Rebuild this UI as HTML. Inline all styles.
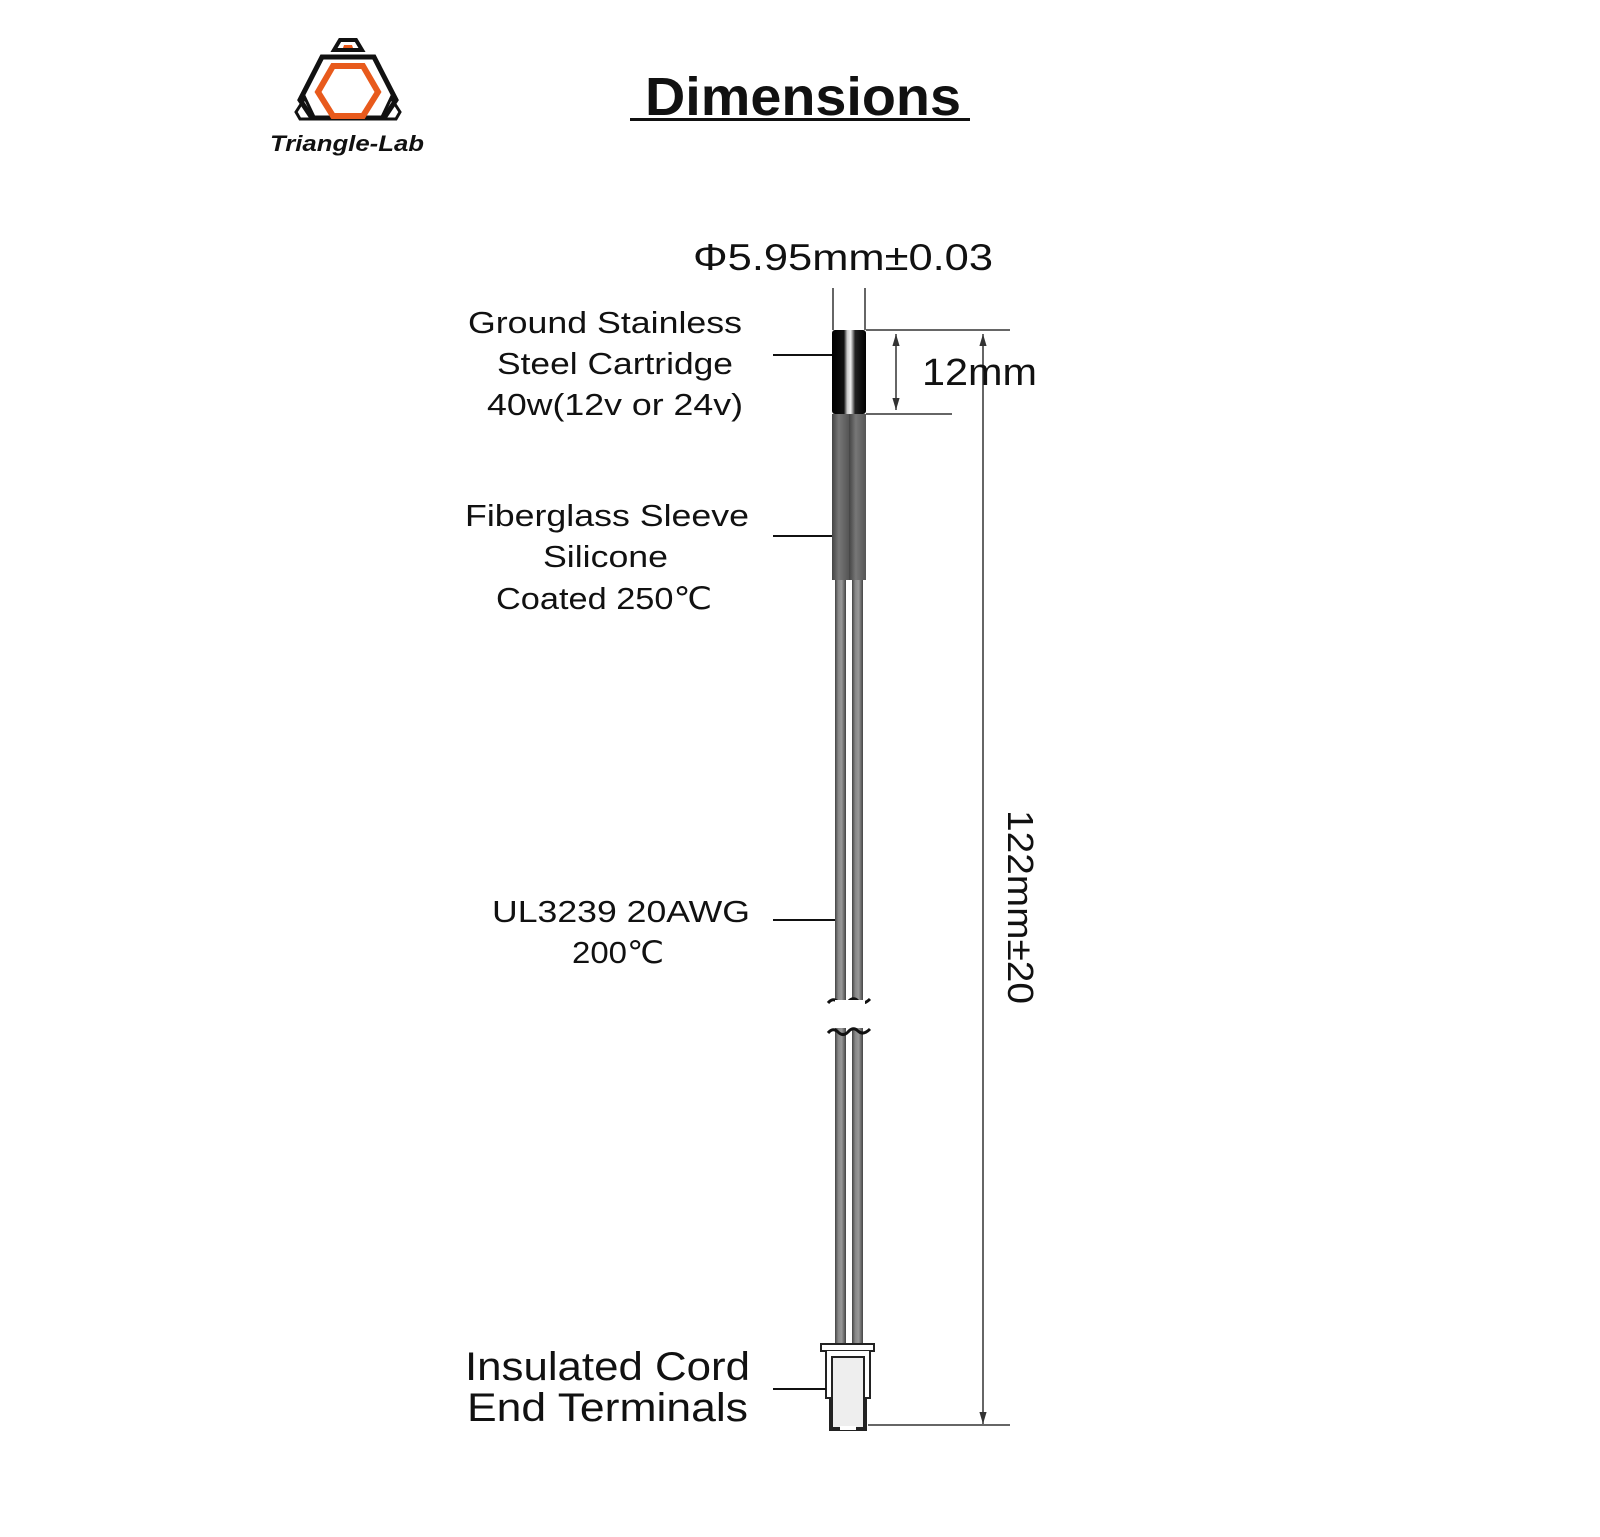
<!DOCTYPE html>
<html><head><meta charset="utf-8"><style>
html,body{margin:0;padding:0;background:#fff;}
svg{display:block}
text{font-family:"Liberation Sans",Arial,sans-serif;fill:#111}
</style></head><body>
<svg width="1600" height="1537" viewBox="0 0 1600 1537" xmlns="http://www.w3.org/2000/svg">
<defs>
<linearGradient id="wire" x1="0" x2="1">
<stop offset="0" stop-color="#444"/><stop offset="0.3" stop-color="#888"/><stop offset="0.6" stop-color="#999"/><stop offset="1" stop-color="#444"/>
</linearGradient>
<linearGradient id="sl" x1="0" x2="1">
<stop offset="0" stop-color="#444"/><stop offset="0.4" stop-color="#777"/><stop offset="1" stop-color="#555"/>
</linearGradient>
<linearGradient id="cart" x1="0" x2="1">
<stop offset="0" stop-color="#000"/><stop offset="0.35" stop-color="#111"/><stop offset="0.45" stop-color="#ccc"/><stop offset="0.55" stop-color="#eee"/><stop offset="0.68" stop-color="#222"/><stop offset="1" stop-color="#000"/>
</linearGradient>
<marker id="ah" viewBox="0 0 10 10" refX="10" refY="5" markerWidth="8" markerHeight="8" orient="auto-start-reverse"><path d="M0,2 L10,5 L0,8 z" fill="#333"/></marker>
</defs>

<!-- Logo -->
<g stroke-linejoin="miter">
<polygon points="340,40 356,40 362,50 334,50" fill="#fff" stroke="#111" stroke-width="4"/>
<polygon points="344,45 352,45 353,48 343,48" fill="#e85a1c"/>
<polygon points="322,57 374,57 396,100 384,118 312,118 300,100" fill="none" stroke="#111" stroke-width="5"/>
<polygon points="333,66 363,66 378,92 363,116 333,116 318,92" fill="none" stroke="#e85a1c" stroke-width="6"/>
<polygon points="305,98 296,112 300,119 315,119" fill="none" stroke="#111" stroke-width="3"/>
<polygon points="391,98 400,112 396,119 381,119" fill="none" stroke="#111" stroke-width="3"/>
</g>
<text x="270" y="151" font-size="22" font-style="italic" font-weight="bold" textLength="154" lengthAdjust="spacingAndGlyphs">Triangle-Lab</text>

<!-- Title -->
<text x="645" y="115" font-size="54" font-weight="bold" textLength="316" lengthAdjust="spacingAndGlyphs">Dimensions</text>
<rect x="630" y="118" width="340" height="3" fill="#111"/>

<text x="693" y="270" font-size="37" textLength="300" lengthAdjust="spacingAndGlyphs">Φ5.95mm±0.03</text>

<!-- extension lines -->
<g stroke="#333" stroke-width="1.5" fill="none">
<line x1="833" y1="288" x2="833" y2="330"/>
<line x1="865" y1="288" x2="865" y2="330"/>
<line x1="866" y1="330" x2="1010" y2="330"/>
<line x1="866" y1="414" x2="952" y2="414"/>
<line x1="896" y1="334" x2="896" y2="410" marker-start="url(#ah)" marker-end="url(#ah)"/>
<line x1="983" y1="334" x2="983" y2="1424" marker-start="url(#ah)" marker-end="url(#ah)"/>
<line x1="868" y1="1425" x2="1010" y2="1425"/>
</g>

<!-- cartridge -->
<rect x="832" y="330" width="34" height="84" rx="3" fill="url(#cart)"/>
<!-- sleeve -->
<rect x="832" y="414" width="17" height="166" fill="url(#sl)"/>
<rect x="849" y="414" width="17" height="166" fill="url(#sl)"/>
<!-- wires -->
<rect x="835" y="580" width="11" height="420" fill="url(#wire)"/>
<rect x="852" y="580" width="11" height="420" fill="url(#wire)"/>
<rect x="835" y="1028" width="11" height="318" fill="url(#wire)"/>
<rect x="852" y="1028" width="11" height="318" fill="url(#wire)"/>
<g stroke="#111" stroke-width="3" fill="none">
<path d="M828,1003 q5,-6 10,-1 q5,5 10,0 q5,-6 10,-1 q5,5 12,-2"/>
<path d="M828,1033 q5,-6 10,-1 q5,5 10,0 q5,-6 10,-1 q5,5 12,-2"/>
</g>
<rect x="835" y="1000" width="30" height="26" fill="#fff"/>

<!-- terminal -->
<rect x="821" y="1344" width="53" height="7" fill="#fff" stroke="#222" stroke-width="2"/>
<path d="M826,1351 V1398 H830 V1430 H866 V1398 H870 V1351" fill="#fff" stroke="#222" stroke-width="2"/>
<rect x="832" y="1357" width="32" height="71" fill="#eee" stroke="#222" stroke-width="2"/>
<rect x="840" y="1426" width="16" height="4" fill="#fff"/>

<!-- leaders -->
<g stroke="#111" stroke-width="2">
<line x1="773" y1="355" x2="832" y2="355"/>
<line x1="773" y1="536" x2="832" y2="536"/>
<line x1="773" y1="920" x2="835" y2="920"/>
<line x1="773" y1="1389" x2="826" y2="1389"/>
</g>

<!-- labels -->
<g font-size="31">
<text x="468" y="333" textLength="274" lengthAdjust="spacingAndGlyphs">Ground Stainless</text>
<text x="497" y="374" textLength="236" lengthAdjust="spacingAndGlyphs">Steel Cartridge</text>
<text x="487" y="415" textLength="256" lengthAdjust="spacingAndGlyphs">40w(12v or 24v)</text>
<text x="465" y="526" textLength="284" lengthAdjust="spacingAndGlyphs">Fiberglass Sleeve</text>
<text x="543" y="567" textLength="125" lengthAdjust="spacingAndGlyphs">Silicone</text>
<text x="496" y="609" textLength="216" lengthAdjust="spacingAndGlyphs">Coated 250℃</text>
<text x="492" y="922" textLength="258" lengthAdjust="spacingAndGlyphs">UL3239 20AWG</text>
<text x="572" y="963" textLength="92" lengthAdjust="spacingAndGlyphs">200℃</text>
</g>
<g font-size="40">
<text x="465" y="1380" textLength="285" lengthAdjust="spacingAndGlyphs">Insulated Cord</text>
<text x="467" y="1421" textLength="281" lengthAdjust="spacingAndGlyphs">End Terminals</text>
</g>
<text x="922" y="385" font-size="38" textLength="115" lengthAdjust="spacingAndGlyphs">12mm</text>
<text transform="translate(1008,810) rotate(90)" font-size="36" textLength="194" lengthAdjust="spacingAndGlyphs">122mm±20</text>
</svg>
</body></html>
